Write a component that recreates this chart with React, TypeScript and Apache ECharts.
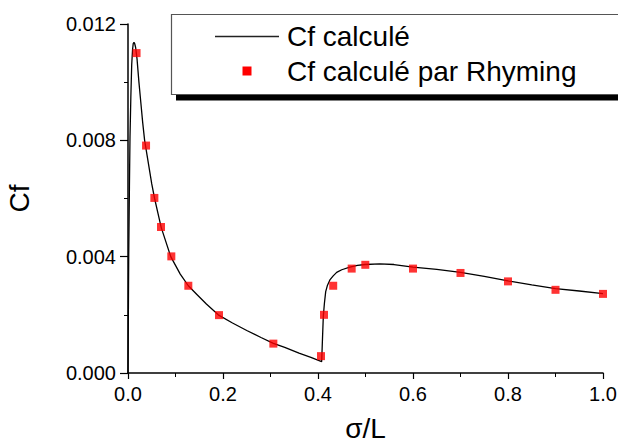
import React, { useEffect, useRef } from "react";
import * as echarts from "echarts";

// Computed curve (Cf calculé)
const lineX = [0, 0.0015, 0.003, 0.0042, 0.006, 0.0078, 0.0095, 0.011, 0.0126, 0.014, 0.016, 0.019, 0.023, 0.027, 0.031, 0.035, 0.04, 0.045, 0.05, 0.056, 0.063, 0.07, 0.08, 0.09, 0.1, 0.11, 0.127, 0.145, 0.165, 0.19, 0.22, 0.25, 0.28, 0.306, 0.33, 0.36, 0.385, 0.4077, 0.4095, 0.4112, 0.4135, 0.4162, 0.42, 0.425, 0.432, 0.4393, 0.45, 0.467, 0.483, 0.4996, 0.53, 0.56, 0.6, 0.65, 0.7, 0.75, 0.8, 0.85, 0.9, 0.95, 1.0];
const lineY = [0, 0.004, 0.0064, 0.0081, 0.0095, 0.0106, 0.0111, 0.01133, 0.01137, 0.01133, 0.0112, 0.0108, 0.01, 0.0093, 0.0086, 0.008, 0.0075, 0.007, 0.0065, 0.006, 0.0055, 0.005, 0.0045, 0.004, 0.0037, 0.0034, 0.003, 0.0027, 0.00237, 0.002, 0.00172, 0.00146, 0.00122, 0.00102, 0.00088, 0.00068, 0.00054, 0.00039, 0.0012, 0.00195, 0.0024, 0.0028, 0.00302, 0.0032, 0.00334, 0.00346, 0.00355, 0.00364, 0.0037, 0.00373, 0.00375, 0.00373, 0.00364, 0.00356, 0.00346, 0.00332, 0.00317, 0.00303, 0.0029, 0.00282, 0.00273];

// Rhyming points
const rhyX = [0.018, 0.038, 0.0555, 0.0695, 0.0912, 0.127, 0.1916, 0.306, 0.4063, 0.4126, 0.432, 0.4709, 0.4996, 0.6, 0.7, 0.8, 0.9, 1.0];
const rhyY = [0.011, 0.00782, 0.00602, 0.00502, 0.00401, 0.003, 0.00199, 0.00101, 0.00058, 0.002, 0.003, 0.00359, 0.00372, 0.00359, 0.00344, 0.00315, 0.00286, 0.00272];

const seriesNames = ["Cf calculé", "Cf calculé par Rhyming"];
const xTitle = "σ/L";
const yTitle = "Cf";

const FONT = "'Liberation Sans', Arial, sans-serif";

export default function App() {
  const ref = useRef<HTMLDivElement>(null);
  useEffect(() => {
    if (!ref.current) return;
    const chart = echarts.init(ref.current, undefined, { renderer: "svg" });
    chart.setOption({
      animation: false,
      backgroundColor: "#ffffff",
      textStyle: { fontFamily: FONT },
      grid: { left: 128, right: 15, top: 24, bottom: 73, containLabel: false, outerBoundsMode: "none" },
      xAxis: {
        type: "value",
        min: 0,
        max: 1,
        interval: 0.2,
        name: xTitle,
        nameLocation: "middle",
        nameGap: 41,
        nameTextStyle: { fontSize: 28, color: "#000", fontFamily: FONT },
        axisLine: { show: true, onZero: false, lineStyle: { color: "#000", width: 1.5 } },
        axisTick: { show: true, inside: false, length: 6, lineStyle: { color: "#000", width: 1.2 } },
        minorTick: { show: true, splitNumber: 2, length: 4, lineStyle: { color: "#000", width: 1 } },
        splitLine: { show: false },
        axisLabel: {
          fontSize: 20,
          color: "#000",
          margin: 11,
          fontFamily: FONT,
          formatter: (v: number) => v.toFixed(1),
        },
      },
      yAxis: {
        type: "value",
        min: 0,
        max: 0.012,
        interval: 0.004,
        name: yTitle,
        nameLocation: "middle",
        nameGap: 95,
        nameRotate: 90,
        nameTextStyle: { fontSize: 28, color: "#000", fontFamily: FONT },
        axisLine: { show: true, onZero: false, lineStyle: { color: "#000", width: 1.5 } },
        axisTick: { show: true, inside: false, length: 8, lineStyle: { color: "#000", width: 1.2 } },
        minorTick: { show: true, splitNumber: 2, length: 4, lineStyle: { color: "#000", width: 1 } },
        splitLine: { show: false },
        axisLabel: {
          fontSize: 20,
          color: "#000",
          margin: 12,
          fontFamily: FONT,
          formatter: (v: number) => v.toFixed(3),
        },
      },
      series: [
        {
          name: seriesNames[0],
          type: "line",
          data: lineX.map((x, i) => [x, lineY[i]]),
          showSymbol: false,
          symbol: "none",
          smooth: false,
          lineStyle: { color: "#000", width: 1.3 },
          z: 2,
        },
        {
          name: seriesNames[1],
          type: "scatter",
          data: rhyX.map((x, i) => [x, rhyY[i]]),
          symbol: "rect",
          symbolSize: 8,
          itemStyle: { color: "#ff0000" },
          z: 3,
        },
      ],
      graphic: [
        {
          type: "rect",
          shape: { x: 176, y: 19.5, width: 500, height: 81 },
          style: { fill: "#000" },
          z: 10,
        },
        {
          type: "rect",
          shape: { x: 171.5, y: 14.5, width: 500, height: 80 },
          style: { fill: "#fff", stroke: "#555", lineWidth: 1.2 },
          z: 11,
        },
        {
          type: "line",
          shape: { x1: 215, y1: 36.5, x2: 279, y2: 36.5 },
          style: { stroke: "#222", lineWidth: 1.4 },
          z: 12,
        },
        {
          type: "rect",
          shape: { x: 242.5, y: 66.5, width: 9, height: 9 },
          style: { fill: "#ff0000" },
          z: 12,
        },
        {
          type: "text",
          x: 287,
          y: 36.5,
          style: {
            text: seriesNames[0],
            fontSize: 28,
            fontFamily: FONT,
            fill: "#000",
            verticalAlign: "middle",
            align: "left",
          },
          z: 12,
        },
        {
          type: "text",
          x: 287,
          y: 71.5,
          style: {
            text: seriesNames[1],
            fontSize: 28,
            fontFamily: FONT,
            fill: "#000",
            verticalAlign: "middle",
            align: "left",
          },
          z: 12,
        },
      ],
    });
    return () => chart.dispose();
  }, []);
  return (
    <div
      ref={ref}
      style={{ position: "fixed", left: 0, top: 0, width: 618, height: 446, background: "#fff" }}
    />
  );
}
